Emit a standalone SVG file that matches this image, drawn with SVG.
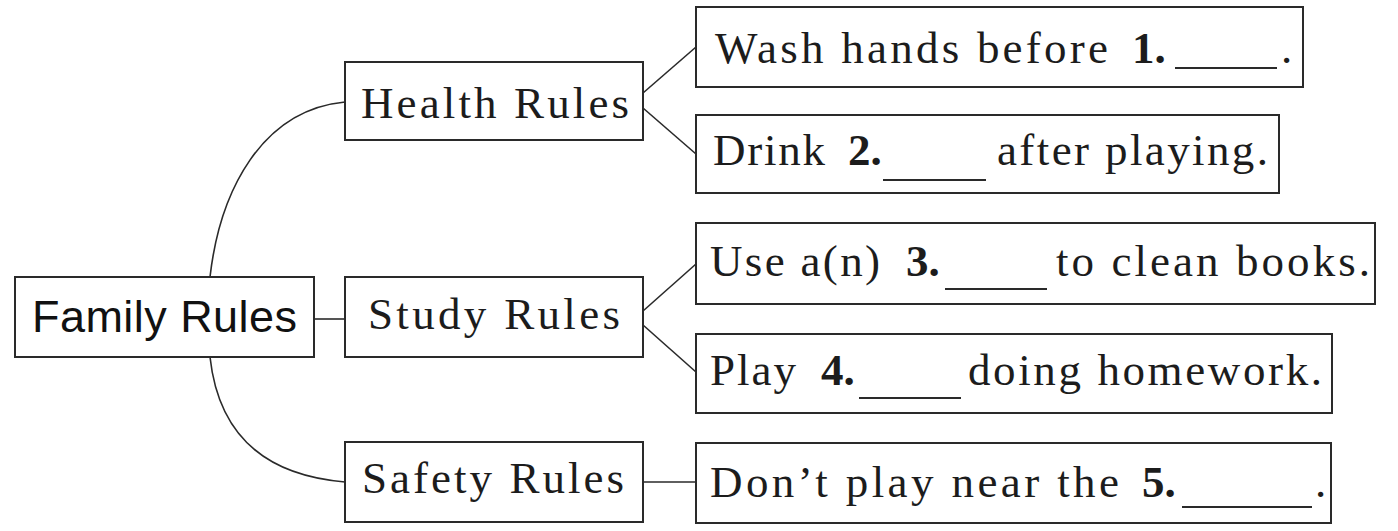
<svg xmlns="http://www.w3.org/2000/svg" width="1398" height="531" viewBox="0 0 1398 531">
<style>
.box{fill:#fff;stroke:#2a2a2a;stroke-width:2}
.ln{fill:none;stroke:#2a2a2a;stroke-width:1.6}
.bl{stroke:#2a2a2a;stroke-width:1.8}
.t{font-family:"Liberation Serif","Times New Roman",serif;font-size:45px;fill:#1c1c1c}
.b{font-family:"Liberation Serif","Times New Roman",serif;font-size:45px;font-weight:bold;fill:#1c1c1c}
.s{font-family:"Liberation Sans",Arial,sans-serif;font-size:45px;fill:#111}
</style>
<rect width="1398" height="531" fill="#fff"/>
<g id="connectors">
<path class="ln" d="M210,277 C220,190 262,110 345,102"/>
<path class="ln" d="M210,357 C218,430 260,475 345,482"/>
<line class="ln" x1="314" y1="319" x2="345" y2="319"/>
<line class="ln" x1="643" y1="93" x2="696" y2="47"/>
<line class="ln" x1="643" y1="108" x2="696" y2="154"/>
<line class="ln" x1="643" y1="311" x2="696" y2="264"/>
<line class="ln" x1="643" y1="325" x2="696" y2="372"/>
<line class="ln" x1="643" y1="482" x2="696" y2="482"/>
</g>
<g id="family">
<rect class="box" x="15" y="277" width="299" height="80"/>
<text class="s" x="32" y="332" textLength="265">Family Rules</text>
</g>
<g id="health">
<rect class="box" x="345" y="62" width="298" height="78"/>
<text class="t" x="361" y="118" textLength="268">Health Rules</text>
</g>
<g id="study">
<rect class="box" x="345" y="277" width="298" height="80"/>
<text class="t" x="368" y="329" textLength="252">Study Rules</text>
</g>
<g id="safety">
<rect class="box" x="345" y="442" width="298" height="80"/>
<text class="t" x="362" y="493" textLength="262">Safety Rules</text>
</g>
<g id="rule1">
<rect class="box" x="696" y="7" width="607" height="80"/>
<text class="t" x="715" y="63" textLength="393">Wash hands before</text>
<text class="b" x="1132" y="63">1.</text>
<line class="bl" x1="1175" y1="68" x2="1277" y2="68"/>
<text class="t" x="1281" y="63">.</text>
</g>
<g id="rule2">
<rect class="box" x="696" y="115" width="583" height="78"/>
<text class="t" x="713" y="165" textLength="112">Drink</text>
<text class="b" x="848" y="165">2.</text>
<line class="bl" x1="883" y1="180" x2="986" y2="180"/>
<text class="t" x="997" y="165" textLength="271">after playing.</text>
</g>
<g id="rule3">
<rect class="box" x="696" y="223" width="679" height="81"/>
<text class="t" x="710" y="276" textLength="170">Use a(n)</text>
<text class="b" x="906" y="276">3.</text>
<line class="bl" x1="945" y1="289" x2="1047" y2="289"/>
<text class="t" x="1056" y="276" textLength="314">to clean books.</text>
</g>
<g id="rule4">
<rect class="box" x="696" y="334" width="636" height="79"/>
<text class="t" x="710" y="385" textLength="86">Play</text>
<text class="b" x="821" y="385">4.</text>
<line class="bl" x1="859" y1="398" x2="961" y2="398"/>
<text class="t" x="968" y="385" textLength="354">doing homework.</text>
</g>
<g id="rule5">
<rect class="box" x="696" y="443" width="635" height="80"/>
<text class="t" x="710" y="497" textLength="409">Don’t play near the</text>
<text class="b" x="1142" y="497">5.</text>
<line class="bl" x1="1182" y1="507" x2="1312" y2="507"/>
<text class="t" x="1315" y="497">.</text>
</g>
</svg>
